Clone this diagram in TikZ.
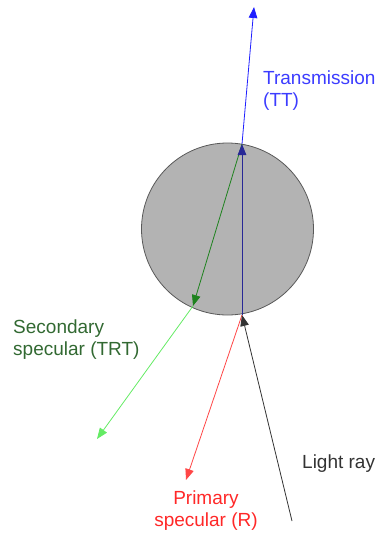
\documentclass[tikz,border=0pt]{standalone}
\usepackage{fontspec}
\setmainfont{Liberation Sans}
\usetikzlibrary{arrows.meta}
\definecolor{rayTT}{RGB}{30,30,255}
\definecolor{rayTTin}{RGB}{40,40,150}
\definecolor{rayR}{RGB}{255,70,70}
\definecolor{rayTRT}{RGB}{100,235,100}
\definecolor{rayTRTin}{RGB}{30,130,30}
\definecolor{txtTT}{RGB}{60,60,255}
\definecolor{txtTRT}{RGB}{50,105,50}
\definecolor{txtR}{RGB}{255,40,40}
\definecolor{fiberFill}{RGB}{179,179,179}

\begin{document}
\begin{tikzpicture}[x=1pt, y=-1pt, font=\fontsize{19}{22}\selectfont,
  >={Triangle[length=11pt, width=8.5pt]},
  ray/.style={line width=0.8pt, ->},
  lbl/.style={inner sep=0pt, align=left}]
  \useasboundingbox (0,0) rectangle (376,536);

  % Hair fiber cross-section
  \coordinate (c) at (227.5,229);
  \fill[fiberFill] (c) circle (86);
  \draw[black!65, line width=0.8pt] (c) circle (86);

  % Points on the fiber and ray ends
  \coordinate (hitB) at (242,315);
  \coordinate (hitT) at (242,144);
  \coordinate (hitL) at (193,306);
  \coordinate (src) at (292,521);
  \coordinate (endTT) at (254,7);
  \coordinate (endR) at (186,480);
  \coordinate (endTRT) at (97,439);

  % Rays
  \draw[ray, rayTRT] (hitL) -- (endTRT);
  \draw[ray, rayR] (hitB) -- (endR);
  \draw[ray, rayTT] (hitT) -- (endTT);
  \draw[ray, rayTRTin] (hitT) -- (hitL);
  \draw[ray, rayTTin] (hitB) -- (hitT);
  \draw[ray, black!80] (src) -- (hitB);

  % Labels
  \node[lbl, anchor=west, txtTT] (lblTT) at (263,91) {Transmission\\(TT)};
  \node[lbl, anchor=west, txtTRT] (lblTRT) at (13,340) {Secondary\\specular (TRT)};
  \node[lbl, anchor=west, black!80] (lblLight) at (302,464) {Light ray};
  \node[lbl, align=center, txtR] (lblR) at (206,511) {Primary\\specular (R)};
\end{tikzpicture}
\end{document}
